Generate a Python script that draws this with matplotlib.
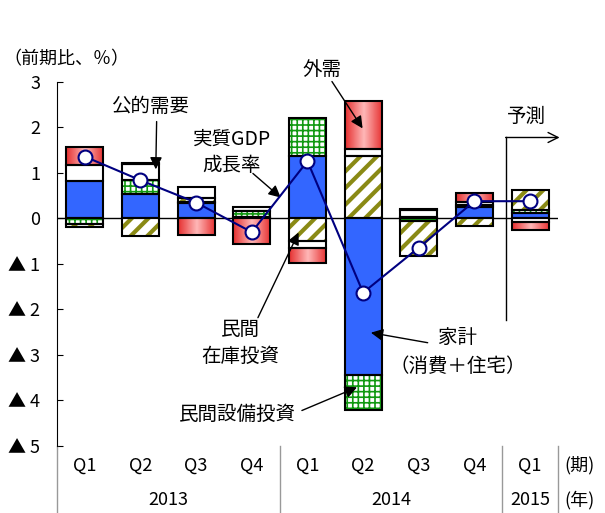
import numpy as np
import matplotlib
matplotlib.use("Agg")
import matplotlib.pyplot as plt
from matplotlib.colors import LinearSegmentedColormap
from matplotlib.transforms import blended_transform_factory

plt.rcParams['font.family'] = ['Noto Sans CJK JP', 'DejaVu Sans']
plt.rcParams['font.size'] = 13

# data (寄与度, %)
quarters = ["Q1", "Q2", "Q3", "Q4", "Q1", "Q2", "Q3", "Q4", "Q1"]
years = ["2013", "2014", "2015"]
year_span = [(0, 3), (4, 7), (8, 8)]
household = [0.82, 0.54, 0.33, 0.03, 1.38, -3.45, 0.03, 0.25, 0.12]
capex = [-0.12, 0.31, 0.04, 0.14, 0.83, -0.75, -0.05, 0.05, 0.06]
inventory = [-0.07, -0.39, 0.08, 0.0, -0.50, 1.38, -0.78, -0.17, 0.45]
public = [0.35, 0.35, 0.25, 0.08, -0.15, 0.15, 0.15, 0.07, -0.08]
external = [0.40, 0.03, -0.37, -0.55, -0.32, 1.05, 0.03, 0.20, -0.17]
gdp = [1.36, 0.84, 0.35, -0.30, 1.26, -1.63, -0.64, 0.38, 0.38]
yticks = [3, 2, 1, 0, -1, -2, -3, -4, -5]
ytick_labels = ["3", "2", "1", "0", "▲ 1", "▲ 2", "▲ 3", "▲ 4", "▲ 5"]

fig = plt.figure(figsize=(6.05, 5.13), dpi=100)
ax = fig.add_axes([0.0942, 0.1306, 0.828, 0.7096])

x = np.arange(len(quarters))
w = 0.665
red_cmap = LinearSegmentedColormap.from_list('redgrad', ['#e63030', '#ffb8b8', '#e63030'])
grad = np.linspace(0, 1, 64).reshape(1, -1)

def hatched(xs, h, b, pat, col, lw):
    with plt.rc_context({'hatch.linewidth': lw}):
        bars = ax.bar(xs, h, w, bottom=b, facecolor='white', edgecolor=col,
                      hatch=pat, linewidth=0, zorder=2)
    for p in bars:
        if hasattr(p, 'set_hatch_linewidth'):
            p.set_hatch_linewidth(lw)

# stack the components, positive up and negative down
series = [household, capex, inventory, public, external]
pos = np.zeros(len(x))
neg = np.zeros(len(x))
for k, vals in enumerate(series):
    vals = np.array(vals)
    base = np.where(vals >= 0, pos, neg)
    if k == 0:
        ax.bar(x, vals, w, bottom=base, color='#3366ff', linewidth=0, zorder=2)
    elif k == 1:
        hatched(x, vals, base, '+++', '#119911', 1.2)
    elif k == 2:
        hatched(x, vals, base, '//', '#8a8a14', 3.0)
    elif k == 3:
        ax.bar(x, vals, w, bottom=base, color='white', linewidth=0, zorder=2)
    else:
        for i in range(len(x)):
            if vals[i] != 0:
                ax.imshow(grad, cmap=red_cmap, aspect='auto', zorder=2,
                          extent=(x[i] - w / 2, x[i] + w / 2, base[i], base[i] + vals[i]))
    ax.bar(x, vals, w, bottom=base, fill=False, edgecolor='black', linewidth=1.5, zorder=3)
    pos = np.where(vals >= 0, pos + vals, pos)
    neg = np.where(vals < 0, neg + vals, neg)

ax.axhline(0, color='black', lw=1, zorder=1.5)
ax.plot(x, gdp, color='#000080', lw=1.5, marker='o', ms=10, mfc='white',
        mec='#000080', mew=1.5, zorder=4)

ax.set_xlim(-0.5, 8.5)
ax.set_ylim(-5, 3)
ax.set_yticks(yticks)
ax.set_yticklabels(ytick_labels)
ax.tick_params(axis='y', direction='in', length=4, pad=12, labelsize=13)
ax.set_xticks([])
for s in ['top', 'right', 'bottom']:
    ax.spines[s].set_visible(False)

# table under the axis
tr = blended_transform_factory(ax.transData, ax.transAxes)
for xv in [-0.5, 3.5, 7.5, 8.5]:
    ax.plot([xv, xv], [0, -0.184], transform=tr, color='#999999', lw=1, clip_on=False)
for i, q in enumerate(quarters):
    ax.text(i, -5.43, q, ha='center', va='center', clip_on=False)
for yr, (a, b) in zip(years, year_span):
    ax.text((a + b) / 2, -6.18, yr, ha='center', va='center', clip_on=False)
ax.text(8.62, -5.43, "(期)", ha='left', va='center', clip_on=False)
ax.text(8.62, -6.18, "(年)", ha='left', va='center', clip_on=False)

fig.text(0.005, 1 - 59 / 513, "（前期比、％）", ha='left', va='center', fontsize=13)

# labels with arrows
fs = 14
arr = dict(arrowstyle='-|>', color='black', lw=1, mutation_scale=18, shrinkA=0, shrinkB=0)
ax.text(4.26, 3.27, "外需", ha='center', va='center', fontsize=fs)
ax.annotate("", xy=(4.99, 1.98), xytext=(4.44, 3.01), arrowprops=arr)
ax.text(1.17, 2.46, "公的需要", ha='center', va='center', fontsize=fs)
ax.annotate("", xy=(1.275, 1.08), xytext=(1.29, 2.13), arrowprops=arr)
ax.text(2.64, 1.46, "実質GDP\n成長率", ha='center', va='center', fontsize=fs, linespacing=1.35)
ax.annotate("", xy=(3.52, 0.46), xytext=(3.02, 0.99), arrowprops=arr)
ax.text(2.80, -2.73, "民間\n在庫投資", ha='center', va='center', fontsize=fs, linespacing=1.35)
ax.annotate("", xy=(3.84, -0.31), xytext=(3.11, -2.18), arrowprops=arr)
ax.text(6.70, -2.94, "家計\n（消費＋住宅）", ha='center', va='center', fontsize=fs, linespacing=1.5)
ax.annotate("", xy=(5.14, -2.51), xytext=(6.16, -2.73), arrowprops=arr)
ax.text(2.75, -4.31, "民間設備投資", ha='center', va='center', fontsize=fs)
ax.annotate("", xy=(4.89, -3.71), xytext=(3.90, -4.22), arrowprops=arr)

# forecast marker
ax.text(7.94, 2.24, "予測", ha='center', va='center', fontsize=fs)
ax.plot([7.56, 7.56], [1.78, -2.22], color='black', lw=1, zorder=1)
ax.annotate("", xy=(8.53, 1.78), xytext=(7.56, 1.78), annotation_clip=False,
            arrowprops=dict(arrowstyle='->', color='black', lw=1, mutation_scale=18,
                            shrinkA=0, shrinkB=0))

fig.savefig("out.png", dpi=100)
